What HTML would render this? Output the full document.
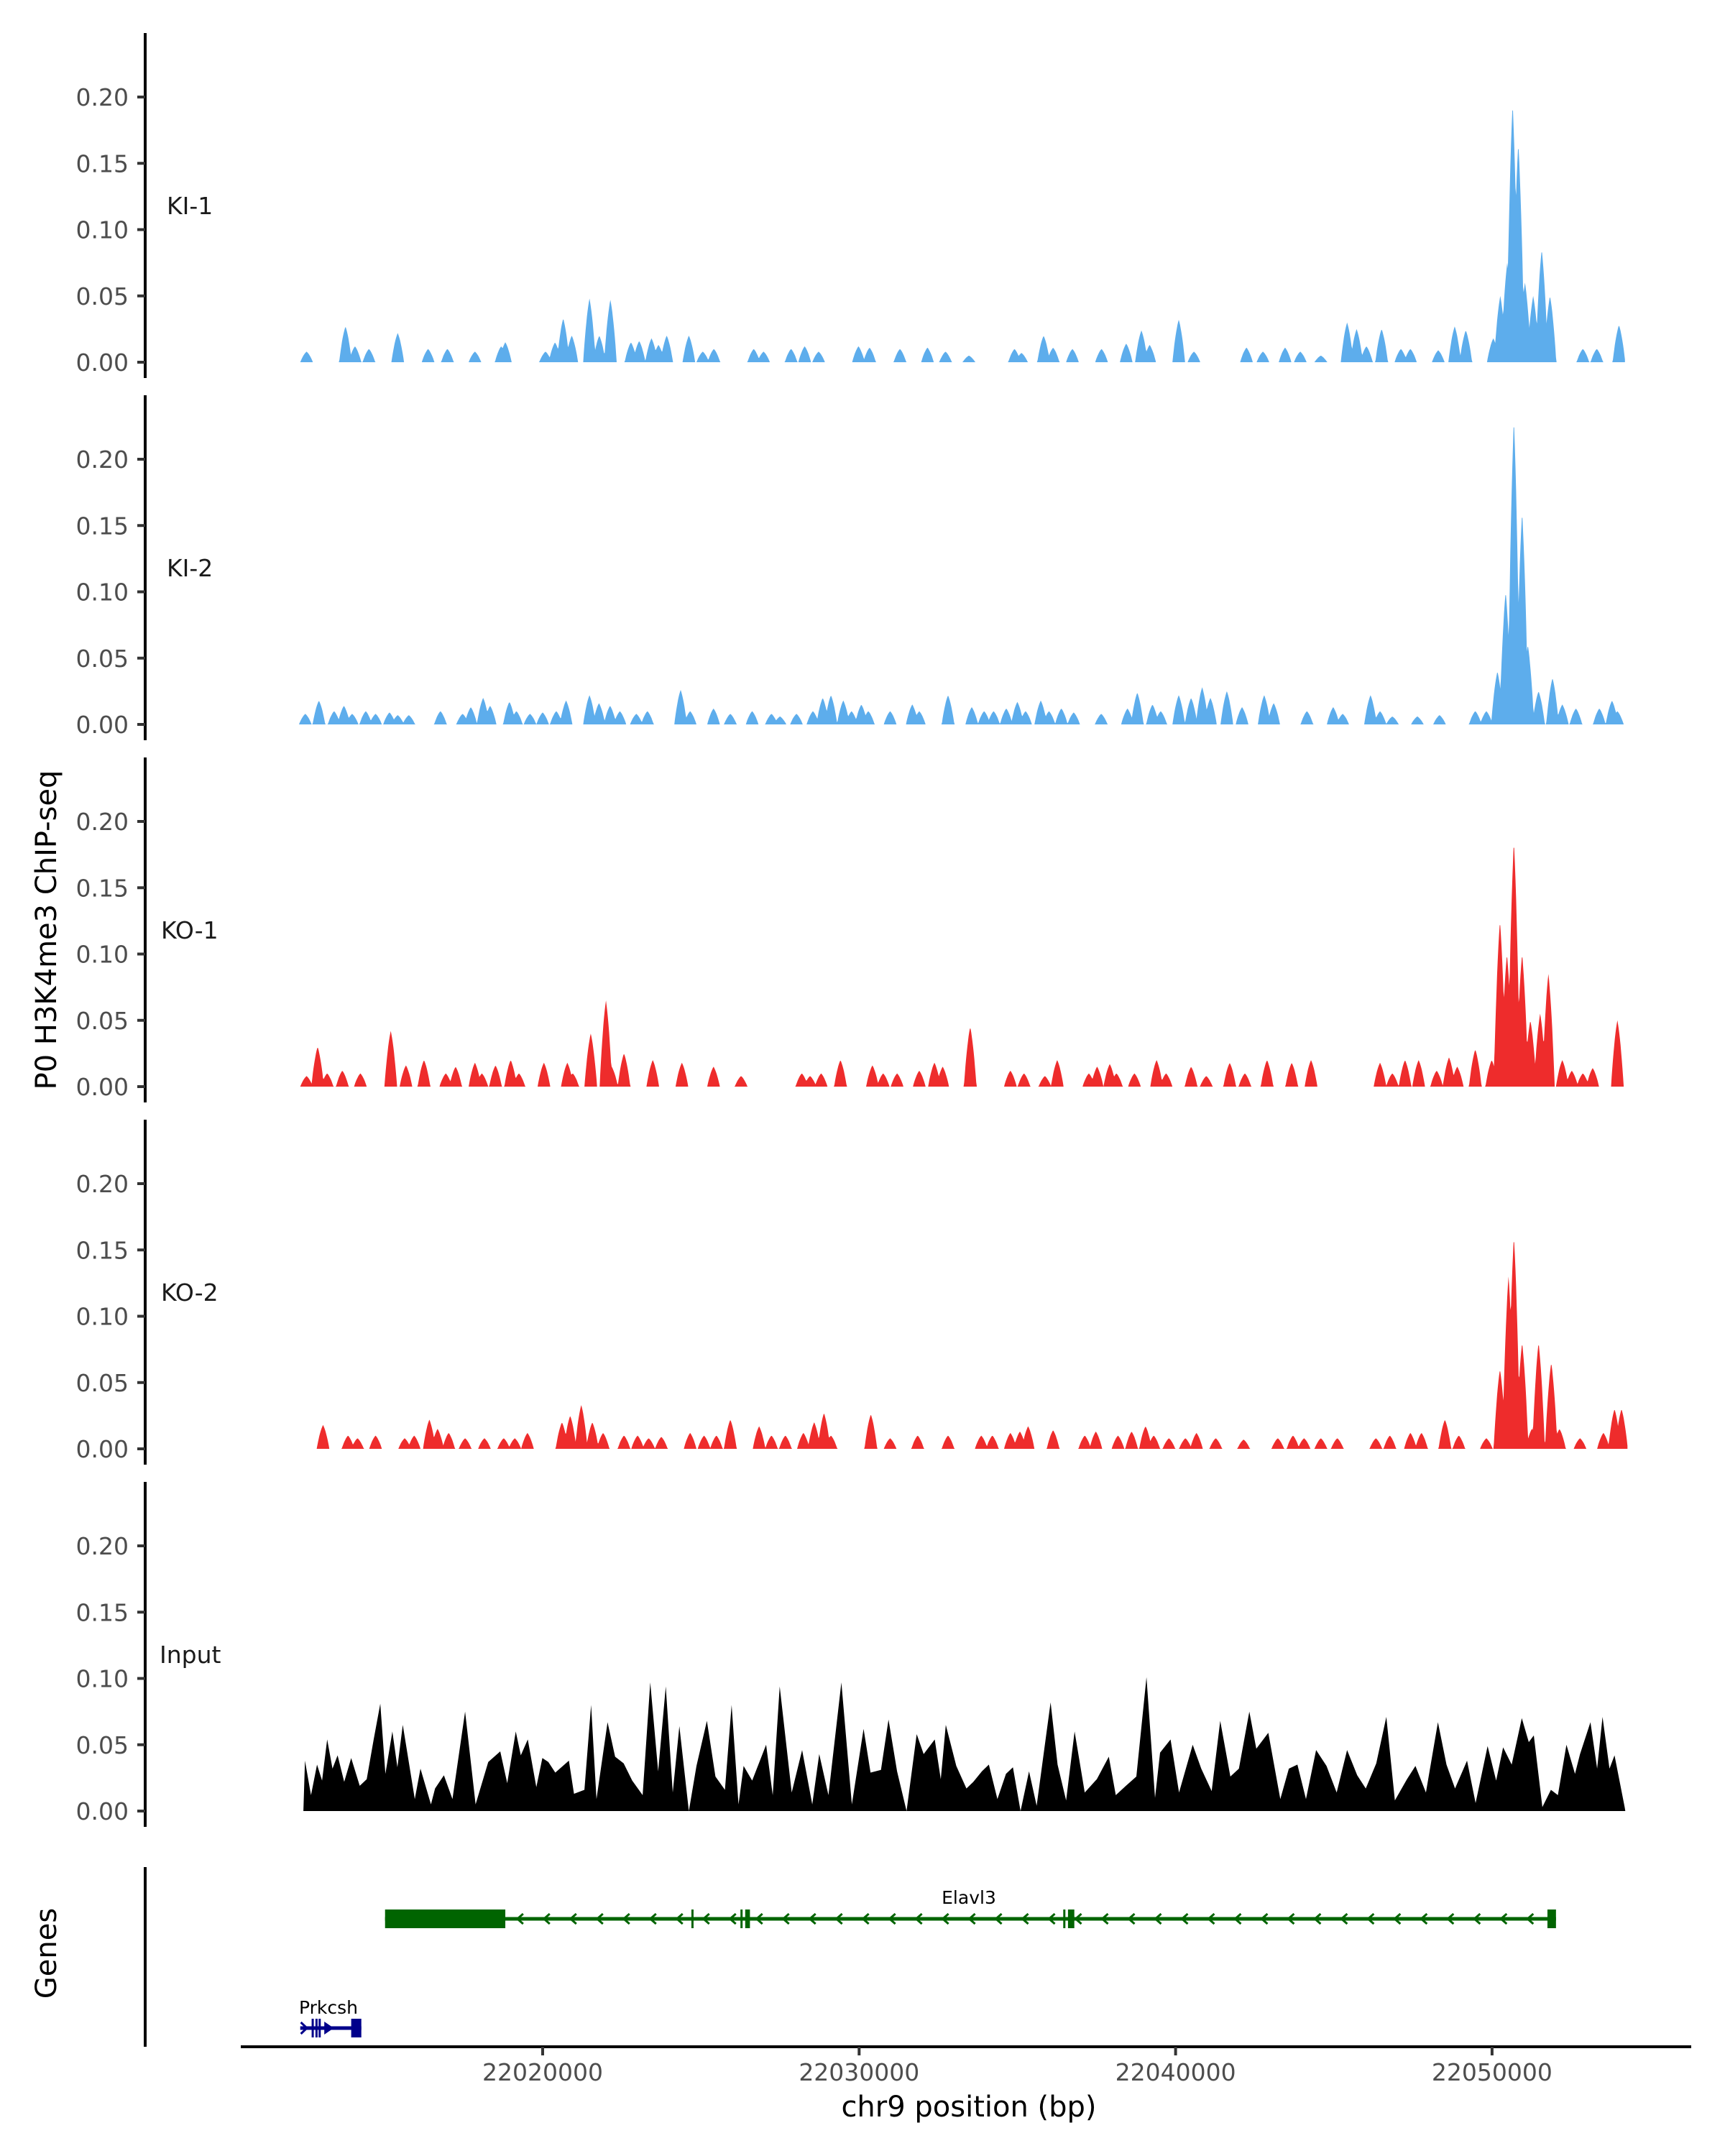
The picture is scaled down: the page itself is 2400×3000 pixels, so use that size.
<!DOCTYPE html>
<html><head><meta charset="utf-8"><style>
html,body{margin:0;padding:0;background:#fff}
svg{display:block;font-family:"DejaVu Sans","Liberation Sans",sans-serif}
</style></head><body>
<svg id="chart" width="2400" height="3000" viewBox="0 0 2400 3000" xmlns="http://www.w3.org/2000/svg"></svg>
<script>
// ---- data (positions in kb offset from chr9:22,000,000) ----
const trackNames = ["KI-1","KI-2","KO-1","KO-2","Input"];
const trackColors = ["#5DADEC","#5DADEC","#EE2C2C","#EE2C2C","#000000"];
const yTicks = [0,0.05,0.10,0.15,0.20];
const yTickLabels = ["0.00","0.05","0.10","0.15","0.20"];
const xTicks = [22020000,22030000,22040000,22050000];
const xTickLabels = ["22020000","22030000","22040000","22050000"];

const ki1Pos = [12.54,13.77,14.07,14.51,15.42,16.38,16.99,17.86,18.69,18.82,20.09,20.39,20.65,20.92,21.48,21.79,22.14,22.79,23.05,23.44,23.66,23.92,24.62,25.06,25.41,26.67,26.98,27.85,28.28,28.72,29.98,30.33,31.29,32.16,32.73,33.47,34.91,35.13,35.83,36.13,36.74,37.66,38.44,38.92,39.18,40.10,40.58,42.24,42.76,43.46,43.94,44.59,45.42,45.72,46.03,46.51,47.12,47.42,48.30,48.82,49.17,50.04,50.26,50.48,50.65,50.83,51.04,51.30,51.57,51.83,52.87,53.31,54.01];
const ki1Val = [0.008,0.027,0.012,0.01,0.022,0.01,0.01,0.008,0.012,0.015,0.008,0.015,0.033,0.02,0.048,0.02,0.047,0.015,0.016,0.018,0.013,0.02,0.02,0.008,0.01,0.01,0.008,0.01,0.012,0.008,0.012,0.011,0.01,0.011,0.008,0.005,0.01,0.007,0.02,0.011,0.01,0.01,0.014,0.024,0.013,0.032,0.008,0.011,0.008,0.011,0.008,0.005,0.03,0.025,0.012,0.025,0.01,0.01,0.009,0.027,0.024,0.018,0.05,0.075,0.195,0.165,0.06,0.05,0.085,0.05,0.01,0.01,0.028];

const ki2Pos = [12.50,12.93,13.41,13.72,13.98,14.41,14.72,15.16,15.42,15.77,16.77,17.47,17.73,18.12,18.34,18.95,19.17,19.60,20.00,20.43,20.74,21.48,21.78,22.13,22.44,22.96,23.31,24.36,24.66,25.40,25.93,26.62,27.23,27.50,28.02,28.54,28.85,29.11,29.50,29.76,30.07,30.29,30.98,31.68,31.90,32.81,33.56,33.95,34.25,34.65,35.00,35.26,35.74,36.00,36.39,36.78,37.65,38.48,38.79,39.27,39.53,40.10,40.49,40.84,41.10,41.62,42.10,42.80,43.10,44.15,44.98,45.28,46.16,46.46,46.85,47.64,48.34,49.47,49.82,50.17,50.43,50.69,50.95,51.13,51.47,51.91,52.22,52.65,53.39,53.79,53.96];
const ki2Val = [0.008,0.018,0.01,0.014,0.008,0.01,0.008,0.009,0.007,0.007,0.01,0.008,0.013,0.02,0.014,0.017,0.01,0.008,0.009,0.01,0.018,0.022,0.016,0.014,0.01,0.008,0.01,0.026,0.01,0.012,0.008,0.01,0.008,0.006,0.008,0.01,0.02,0.022,0.018,0.01,0.015,0.01,0.01,0.015,0.01,0.022,0.013,0.01,0.01,0.012,0.017,0.01,0.018,0.01,0.012,0.009,0.008,0.012,0.024,0.015,0.01,0.022,0.02,0.028,0.02,0.025,0.013,0.022,0.016,0.01,0.013,0.008,0.022,0.01,0.006,0.006,0.007,0.01,0.01,0.04,0.1,0.23,0.16,0.06,0.025,0.035,0.015,0.012,0.012,0.018,0.01];

const ko1Pos = [12.54,12.89,13.19,13.67,14.24,15.20,15.68,16.25,16.94,17.25,17.86,18.08,18.51,18.99,19.25,20.04,20.78,20.95,21.52,22.00,22.18,22.57,23.48,24.40,25.40,26.27,28.19,28.45,28.80,29.41,30.42,30.76,31.20,31.90,32.38,32.64,33.51,34.78,35.21,35.87,36.26,37.26,37.52,37.92,38.13,38.70,39.40,39.70,40.49,40.97,41.71,42.19,42.89,43.67,44.28,46.46,46.85,47.25,47.68,48.25,48.64,48.90,49.47,49.99,50.25,50.47,50.69,50.95,51.21,51.52,51.78,52.22,52.52,52.87,53.18,53.96];
const ko1Val = [0.008,0.03,0.01,0.012,0.01,0.042,0.016,0.02,0.01,0.015,0.018,0.01,0.016,0.02,0.01,0.018,0.018,0.01,0.04,0.065,0.015,0.025,0.02,0.018,0.015,0.008,0.01,0.008,0.01,0.02,0.016,0.01,0.01,0.012,0.018,0.015,0.045,0.012,0.01,0.008,0.02,0.01,0.015,0.017,0.01,0.01,0.02,0.01,0.015,0.008,0.018,0.01,0.02,0.018,0.02,0.018,0.01,0.02,0.02,0.012,0.022,0.015,0.028,0.02,0.125,0.1,0.185,0.1,0.05,0.055,0.085,0.02,0.012,0.01,0.014,0.05];

const ko2Pos = [13.06,13.85,14.15,14.72,15.64,15.94,16.42,16.68,17.03,17.55,18.16,18.77,19.12,19.52,20.61,20.87,21.22,21.57,21.91,22.57,23.00,23.35,23.75,24.66,25.10,25.49,25.93,26.84,27.23,27.67,28.24,28.58,28.89,29.11,30.37,30.98,31.85,32.81,33.86,34.21,34.78,35.08,35.34,36.13,37.13,37.48,38.18,38.61,39.05,39.31,39.79,40.31,40.66,41.27,42.15,43.23,43.71,44.06,44.59,45.11,46.33,46.77,47.42,47.77,48.51,48.95,49.82,50.25,50.52,50.69,50.95,51.26,51.47,51.87,52.13,52.78,53.52,53.87,54.09];
const ko2Val = [0.018,0.01,0.008,0.01,0.008,0.01,0.022,0.015,0.012,0.008,0.008,0.008,0.008,0.012,0.02,0.025,0.033,0.02,0.012,0.01,0.01,0.008,0.009,0.012,0.01,0.01,0.022,0.017,0.01,0.01,0.012,0.02,0.027,0.01,0.026,0.008,0.01,0.01,0.01,0.01,0.012,0.013,0.017,0.014,0.01,0.013,0.01,0.013,0.017,0.01,0.008,0.008,0.012,0.008,0.007,0.008,0.01,0.008,0.008,0.008,0.008,0.01,0.012,0.012,0.022,0.01,0.008,0.06,0.13,0.16,0.08,0.015,0.08,0.065,0.015,0.008,0.012,0.03,0.03];

const inputPos = [12.49,12.68,12.87,13.03,13.19,13.36,13.52,13.73,13.95,14.22,14.44,14.66,14.87,15.03,15.25,15.41,15.58,15.96,16.14,16.47,16.60,16.88,17.15,17.55,17.88,18.28,18.66,18.88,19.15,19.31,19.53,19.80,19.99,20.18,20.40,20.83,20.99,21.32,21.53,21.70,22.05,22.29,22.56,22.83,23.16,23.40,23.65,23.89,24.11,24.32,24.62,24.86,25.19,25.46,25.76,25.97,26.19,26.35,26.62,27.06,27.27,27.49,27.87,28.20,28.52,28.74,29.03,29.44,29.77,30.14,30.36,30.69,30.93,31.20,31.50,31.82,32.04,32.39,32.58,32.74,33.07,33.39,33.61,33.88,34.10,34.37,34.64,34.86,35.10,35.37,35.61,36.05,36.27,36.54,36.81,37.13,37.51,37.89,38.11,38.43,38.76,39.08,39.35,39.51,39.84,40.11,40.54,40.81,41.14,41.41,41.73,42.00,42.33,42.55,42.93,43.31,43.58,43.85,44.12,44.44,44.77,45.09,45.42,45.74,46.01,46.34,46.66,46.93,47.31,47.58,47.91,48.29,48.56,48.83,49.21,49.48,49.86,50.13,50.35,50.62,50.94,51.16,51.32,51.59,51.86,52.08,52.35,52.62,52.78,53.11,53.32,53.49,53.71,53.87,54.19];
const inputVal = [0.038,0.012,0.035,0.023,0.054,0.032,0.042,0.022,0.04,0.019,0.024,0.054,0.081,0.028,0.06,0.033,0.065,0.009,0.032,0.005,0.017,0.027,0.009,0.075,0.005,0.037,0.045,0.021,0.06,0.042,0.054,0.018,0.04,0.037,0.029,0.038,0.013,0.016,0.08,0.009,0.067,0.041,0.036,0.023,0.012,0.097,0.03,0.094,0.014,0.064,0.0,0.034,0.068,0.026,0.016,0.08,0.005,0.034,0.023,0.05,0.012,0.094,0.014,0.046,0.005,0.043,0.012,0.097,0.005,0.062,0.029,0.031,0.069,0.03,0.0,0.058,0.043,0.054,0.024,0.065,0.034,0.017,0.022,0.03,0.035,0.009,0.028,0.033,0.0,0.03,0.004,0.082,0.035,0.008,0.06,0.014,0.024,0.041,0.012,0.019,0.026,0.101,0.01,0.044,0.054,0.014,0.05,0.032,0.015,0.068,0.026,0.032,0.075,0.047,0.059,0.009,0.032,0.035,0.009,0.046,0.034,0.014,0.046,0.027,0.017,0.036,0.071,0.008,0.024,0.034,0.014,0.067,0.035,0.017,0.038,0.006,0.049,0.023,0.048,0.035,0.07,0.052,0.057,0.003,0.016,0.012,0.05,0.028,0.043,0.067,0.032,0.071,0.032,0.042,0.003];

const elavl3Start = 15.02, elavl3End = 52.02;
const elavl3UtrEnd = 18.82;
const elavl3Exons = [[24.70,24.72],[26.25,26.30],[26.40,26.55],[36.45,36.50],[36.60,36.80],[51.75,52.02]];
const prkcshStart = 12.34, prkcshEnd = 14.27;
const prkcshExons = [[12.70,12.74],[12.82,12.86],[12.92,12.96],[13.95,14.27]];

// ---- scales ----
const NS = "http://www.w3.org/2000/svg";
const svg = document.getElementById("chart");
const X0 = 755, XPERKB = 44.03;
function xs(kb){ return X0 + (kb - 20) * XPERKB; }
function xsBp(bp){ return xs((bp - 22000000) / 1000); }
const PANEL_BASE0 = 504, PANEL_PITCH = 504, YPERUNIT = 1845;
function ys(i, v){ return PANEL_BASE0 + PANEL_PITCH * i - v * YPERUNIT; }
function mk(tag, attrs, parent){
  const e = document.createElementNS(NS, tag);
  for (const k in attrs) e.setAttribute(k, attrs[k]);
  (parent || svg).appendChild(e);
  return e;
}
const HALF = 0.2;
function peakProfile(pos, val){
  const pts = [];
  const start = Math.min(...pos) - HALF, end = Math.max(...pos) + HALF;
  for (let kb = start; kb <= end + 1e-9; kb += 0.02){
    let m = 0;
    for (let j = 0; j < pos.length; j++){
      const d = Math.abs(kb - pos[j]);
      if (d < HALF){ const t = d / HALF; const v = val[j] * (1 - t) * (1 + t * 0.5) ; if (v > m) m = v; }
    }
    pts.push([kb, m]);
  }
  return pts;
}
const seriesPos = [ki1Pos, ki2Pos, ko1Pos, ko2Pos, inputPos];
const seriesVal = [ki1Val, ki2Val, ko1Val, ko2Val, inputVal];

for (let i = 0; i < 5; i++){
  const g = mk("g", {});
  
  
  const base = ys(i, 0);
  const ax = mk("line", {x1:202, x2:202, y1:base - 458, y2:base + 22, stroke:"#000", "stroke-width":4}, g);
  
  
  for (let t = 0; t < yTicks.length; t++){
    const y = ys(i, yTicks[t]);
    const tk = mk("line", {x1:191, x2:202, y1:y, y2:y, stroke:"#333", "stroke-width":4}, g);
    
    
    const tl = mk("text", {x:179, y:y + 12, "text-anchor":"end", "font-size":33, fill:"#4d4d4d"}, g);
    tl.textContent = yTickLabels[t];
    
    
  }
  const lab = mk("text", {x: i === 4 ? 222 : (i >= 2 ? 224 : 232), y: base - 206, "font-size":33, fill:"#1a1a1a"}, g);
  lab.textContent = trackNames[i];
  
  

  let pts;
  if (i === 4){
    pts = [[seriesPos[i][0] - 0.05, 0]];
    for (let j = 0; j < seriesPos[i].length; j++) pts.push([seriesPos[i][j], seriesVal[i][j]]);
    pts.push([seriesPos[i][seriesPos[i].length - 1] + 0.02, 0]);
  } else {
    pts = peakProfile(seriesPos[i], seriesVal[i]);
  }
  let d = "M" + xs(pts[0][0]).toFixed(1) + "," + base;
  for (const p of pts) d += "L" + xs(p[0]).toFixed(1) + "," + ys(i, p[1]).toFixed(1);
  d += "L" + xs(pts[pts.length - 1][0]).toFixed(1) + "," + base + "Z";
  const area = mk("path", {d: d, fill: trackColors[i]}, g);
  
  
}

// y title
const yt = mk("text", {x:0, y:0, "font-size":40, fill:"#000", "text-anchor":"middle", transform:"translate(78,1294) rotate(-90)"});
yt.textContent = "P0 H3K4me3 ChIP-seq";



// genes panel
const gg = mk("g", {});


const gax = mk("line", {x1:202, x2:202, y1:2598, y2:2848, stroke:"#000", "stroke-width":4}, gg);


const gt = mk("text", {x:0, y:0, "font-size":40, fill:"#000", "text-anchor":"middle", transform:"translate(78,2718) rotate(-90)"}, gg);
gt.textContent = "Genes";



// Elavl3
const eg = mk("g", {}, gg);


const GY = 2670, GREEN = "#006400";
mk("line", {x1:xs(elavl3Start), x2:xs(elavl3End), y1:GY, y2:GY, stroke:GREEN, "stroke-width":5}, eg);
mk("rect", {x:xs(elavl3Start), y:GY - 13, width:xs(elavl3UtrEnd) - xs(elavl3Start), height:26, fill:GREEN}, eg);
for (const ex of elavl3Exons){
  mk("rect", {x:xs(ex[0]), y:GY - 13, width:Math.max(3, xs(ex[1]) - xs(ex[0])), height:26, fill:GREEN}, eg);
}
for (let kb = elavl3UtrEnd + 0.45; kb < elavl3End - 0.3; kb += 0.84){
  const x = xs(kb);
  mk("path", {d:`M${x + 5},${GY - 7}L${x - 3},${GY}L${x + 5},${GY + 7}`, stroke:GREEN, "stroke-width":3, fill:"none"}, eg);
}
const el = mk("text", {x:1348, y:2649, "font-size":25, "text-anchor":"middle", fill:"#000"}, eg);
el.textContent = "Elavl3";



// Prkcsh
const pg = mk("g", {}, gg);


const PY = 2822, NAVY = "#00008B";
mk("line", {x1:xs(prkcshStart), x2:xs(prkcshEnd), y1:PY, y2:PY, stroke:NAVY, "stroke-width":5}, pg);
for (const ex of prkcshExons){
  mk("rect", {x:xs(ex[0]), y:PY - 13, width:Math.max(3, xs(ex[1]) - xs(ex[0])), height:26, fill:NAVY}, pg);
}
mk("path", {d:`M${xs(12.36)},${PY - 8}L${xs(12.55)},${PY}L${xs(12.36)},${PY + 8}`, stroke:NAVY, "stroke-width":3, fill:"none"}, pg);
mk("path", {d:`M${xs(13.1)},${PY - 9}L${xs(13.4)},${PY}L${xs(13.1)},${PY + 9}Z`, fill:NAVY}, pg);
const pl = mk("text", {x:xs(12.3), y:2802, "font-size":25, fill:"#000"}, pg);
pl.textContent = "Prkcsh";



// x axis
const xg = mk("g", {});


mk("line", {x1:335, x2:2353, y1:2848, y2:2848, stroke:"#000", "stroke-width":4}, xg);
for (let t = 0; t < xTicks.length; t++){
  const x = xsBp(xTicks[t]);
  const tk = mk("line", {x1:x, x2:x, y1:2848, y2:2860, stroke:"#333", "stroke-width":4}, xg);
  
  
  const tl = mk("text", {x:x, y:2895, "text-anchor":"middle", "font-size":33, fill:"#4d4d4d"}, xg);
  tl.textContent = xTickLabels[t];
  
  
}
const xt = mk("text", {x:1348, y:2945, "text-anchor":"middle", "font-size":40, fill:"#000"}, xg);
xt.textContent = "chr9 position (bp)";


</script>
</body></html>
